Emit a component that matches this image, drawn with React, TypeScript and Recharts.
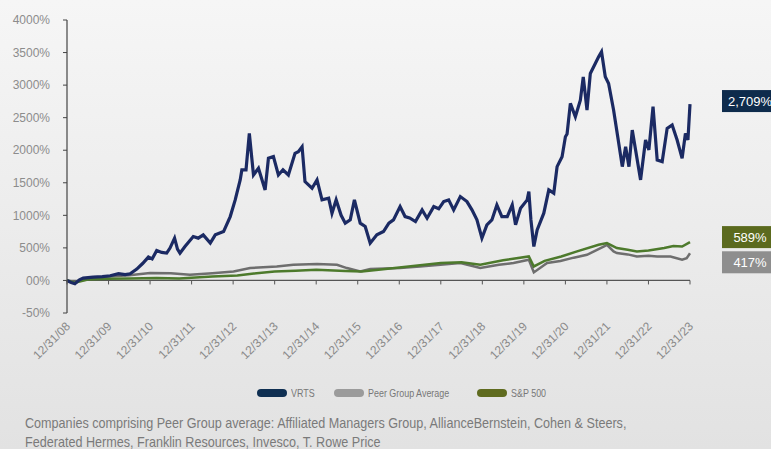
import React from 'react';
import { LineChart, Line, XAxis, YAxis, ReferenceLine, ReferenceDot } from 'recharts';

// x positions are decimal years: 2009.0 == 12/31/08
const yearTicks = [2009, 2010, 2011, 2012, 2013, 2014, 2015, 2016, 2017, 2018, 2019, 2020, 2021, 2022, 2023, 2024];
const yearLabels = ['12/31/08', '12/31/09', '12/31/10', '12/31/11', '12/31/12', '12/31/13', '12/31/14', '12/31/15', '12/31/16', '12/31/17', '12/31/18', '12/31/19', '12/31/20', '12/31/21', '12/31/22', '12/31/23'];
const valueTicks = [-500, 0, 500, 1000, 1500, 2000, 2500, 3000, 3500, 4000];
const valueLabels = ['-50%', '00%', '500%', '1000%', '1500%', '2000%', '2500%', '3000%', '3500%', '4000%'];

const vrts: [number, number][] = [
    [2009.0, 0], [2009.1, -30], [2009.19, -50], [2009.3, 10], [2009.39, 37], [2009.63, 52], [2009.85, 60],
    [2010.04, 72], [2010.24, 103], [2010.4, 90], [2010.52, 103], [2010.68, 175], [2010.82, 260], [2010.96, 359],
    [2011.05, 330], [2011.16, 460], [2011.28, 430], [2011.4, 420], [2011.48, 497], [2011.59, 650], [2011.66, 480],
    [2011.72, 420], [2011.84, 521], [2012.04, 675], [2012.16, 650], [2012.28, 700], [2012.45, 573], [2012.57, 700],
    [2012.77, 751], [2012.93, 981], [2013.05, 1237], [2013.09, 1340], [2013.17, 1544], [2013.21, 1697], [2013.31, 1697],
    [2013.39, 2260], [2013.49, 1620], [2013.61, 1723], [2013.77, 1390], [2013.85, 1876], [2013.97, 1901], [2014.09, 1620],
    [2014.2, 1700], [2014.33, 1620], [2014.49, 1953], [2014.57, 1978], [2014.66, 2054], [2014.73, 1518], [2014.9, 1416],
    [2015.02, 1544], [2015.14, 1237], [2015.3, 1263], [2015.38, 1033], [2015.48, 1237], [2015.6, 1000], [2015.7, 880],
    [2015.82, 930], [2015.92, 1237], [2016.06, 880], [2016.18, 828], [2016.3, 573], [2016.46, 700], [2016.62, 751],
    [2016.75, 880], [2016.86, 930], [2017.02, 1134], [2017.14, 981], [2017.25, 960], [2017.39, 905], [2017.55, 1084],
    [2017.67, 956], [2017.83, 1134], [2017.95, 1100], [2018.07, 1211], [2018.19, 1237], [2018.31, 1084], [2018.47, 1288],
    [2018.63, 1211], [2018.75, 1084], [2018.87, 930], [2018.99, 650], [2019.11, 854], [2019.23, 930], [2019.35, 1160],
    [2019.47, 981], [2019.6, 981], [2019.72, 1160], [2019.8, 854], [2019.92, 1110], [2020.08, 1237], [2020.12, 1364],
    [2020.17, 930], [2020.24, 521], [2020.32, 777], [2020.48, 1033], [2020.6, 1390], [2020.72, 1340], [2020.8, 1748],
    [2020.92, 1901], [2021.0, 2207], [2021.04, 2250], [2021.12, 2720], [2021.24, 2514], [2021.36, 2770], [2021.43, 3127],
    [2021.52, 2617], [2021.6, 3179], [2021.72, 3333], [2021.8, 3434], [2021.87, 3511], [2021.96, 3127], [2022.04, 3026],
    [2022.16, 2617], [2022.26, 2207], [2022.37, 1748], [2022.45, 2054], [2022.53, 1748], [2022.61, 2310], [2022.69, 2004],
    [2022.81, 1544], [2022.93, 2157], [2023.01, 2004], [2023.11, 2668], [2023.21, 1850], [2023.33, 1825], [2023.45, 2336],
    [2023.57, 2387], [2023.69, 2157], [2023.81, 1876], [2023.89, 2259], [2023.95, 2157], [2024.0, 2709],
];

const peer: [number, number][] = [
    [2009.0, 0], [2009.19, -25], [2009.43, 20], [2010.01, 60], [2010.5, 80], [2011.0, 113], [2011.5, 110],
    [2011.96, 87], [2012.5, 110], [2013.01, 138], [2013.41, 190], [2014.05, 215], [2014.45, 241], [2015.02, 251],
    [2015.5, 241], [2015.74, 190], [2016.06, 138], [2016.3, 175], [2017.02, 190], [2017.5, 215], [2017.99, 241],
    [2018.47, 267], [2018.95, 190], [2019.4, 240], [2019.75, 267], [2020.12, 317], [2020.24, 123], [2020.56, 267],
    [2020.88, 300], [2021.2, 350], [2021.52, 394], [2021.92, 521], [2022.0, 547], [2022.16, 445], [2022.24, 420],
    [2022.5, 400], [2022.72, 368], [2023.0, 380], [2023.21, 368], [2023.53, 368], [2023.81, 317], [2023.92, 340],
    [2024.0, 417],
];

const sp500: [number, number][] = [
    [2009.0, 0], [2009.19, -35], [2009.5, 15], [2010.0, 25], [2010.5, 30], [2011.16, 37], [2011.7, 30],
    [2012.0, 40], [2012.5, 60], [2013.1, 77], [2013.5, 105], [2014.0, 138], [2014.5, 150], [2015.0, 164],
    [2015.7, 145], [2016.1, 138], [2016.5, 165], [2017.0, 200], [2017.5, 235], [2018.0, 267], [2018.5, 280],
    [2018.95, 241], [2019.5, 310], [2020.12, 368], [2020.24, 215], [2020.5, 300], [2020.9, 368], [2021.3, 450],
    [2021.8, 547], [2022.0, 573], [2022.24, 497], [2022.5, 470], [2022.72, 445], [2023.0, 460], [2023.38, 497],
    [2023.6, 530], [2023.81, 521], [2024.0, 589],
];

const endValues = [2709, 589, 417];
const endTexts = ['2,709%', '589%', '417%'];
const tagColors = ['#0e2b4c', '#5b6a1e', '#8e8e8e'];
const tagShift = [-3, -5, 9];

const legendNames = ['VRTS', 'Peer Group Average', 'S&P 500'];
const legendColors = ['#0f2f52', '#9b9b9b', '#5f6b1f'];
const legendLeft = [257, 334, 477];

const toRows = (pts: [number, number][]) => pts.map(([t, v]) => ({ t, v }));

const PLOT_TOP = 20;
const PLOT_H = 293;
const ZERO_OFFSET = (PLOT_H * 500) / 4500;
const narrow = '"Liberation Sans Narrow", "Arial Narrow", "Liberation Sans", sans-serif';

const XTick = (props: any) => {
    const { x, y, payload } = props;
    const i = yearTicks.indexOf(payload.value);
    const zeroY = y - ZERO_OFFSET;
    const tx = x + 4;
    const ty = y + 14;
    return (
        <g>
            <line x1={x} x2={x} y1={zeroY} y2={zeroY + 4} stroke="#555" />
            <text x={tx} y={ty} transform={`rotate(-45 ${tx} ${ty})`} textAnchor="end" fill="#8a8a8a" fontSize={12}>
                {yearLabels[i]}
            </text>
        </g>
    );
};

const endTag = (i: number) => (p: any) => {
    const x0 = p.cx + 32;
    const cy = p.cy + tagShift[i];
    return (
        <g>
            <rect x={x0} y={cy - 11} width={56} height={22} fill={tagColors[i]} />
            <text x={x0 + 28} y={cy + 5} textAnchor="middle" fill="#fff" fontSize={13}>
                {endTexts[i]}
            </text>
        </g>
    );
};

export default function App() {
    return (
        <div
            style={{
                position: 'absolute',
                left: 0,
                top: 0,
                width: 771,
                height: 449,
                overflow: 'hidden',
                background: 'linear-gradient(#f6f6f6, #e2e2e2)',
                fontFamily: '"Liberation Sans", Arial, sans-serif',
            }}
        >
            <LineChart
                width={771}
                height={380}
                margin={{ top: PLOT_TOP, right: 81, bottom: 0, left: 0 }}
                style={{ position: 'absolute', left: 0, top: 0 }}
            >
                <XAxis
                    dataKey="t"
                    type="number"
                    domain={[2009, 2024]}
                    ticks={yearTicks}
                    allowDuplicatedCategory={false}
                    height={67}
                    axisLine={false}
                    tickLine={false}
                    tickSize={0}
                    tickMargin={0}
                    tick={<XTick />}
                    interval={0}
                />
                <YAxis
                    type="number"
                    width={67}
                    domain={[-500, 4000]}
                    ticks={valueTicks}
                    tickFormatter={(v: number) => valueLabels[valueTicks.indexOf(v)]}
                    axisLine={{ stroke: '#444', strokeWidth: 1.2 }}
                    tickLine={{ stroke: '#444' }}
                    tickSize={4}
                    tickMargin={13}
                    tick={{ fill: '#8c8c8c', fontSize: 12 }}
                    interval={0}
                />
                <ReferenceLine y={0} stroke="#555" strokeWidth={1.2} />
                <Line data={toRows(peer)} dataKey="v" stroke="#6e6e6e" strokeWidth={2.5} dot={false} isAnimationActive={false} />
                <Line data={toRows(sp500)} dataKey="v" stroke="#4d7a2c" strokeWidth={2.5} dot={false} isAnimationActive={false} />
                <Line data={toRows(vrts)} dataKey="v" stroke="#1b2a63" strokeWidth={3.2} dot={false} isAnimationActive={false} />
                {endValues.map((v, i) => (
                    <ReferenceDot key={i} x={2024} y={v} r={0} shape={endTag(i)} />
                ))}
            </LineChart>

            {legendNames.map((n, i) => (
                <div key={n} style={{ position: 'absolute', left: legendLeft[i], top: 386, display: 'flex', alignItems: 'center', height: 14 }}>
                    <span style={{ width: 30, height: 8, borderRadius: 4, background: legendColors[i], marginRight: 4 }} />
                    <span
                        style={{
                            fontFamily: narrow,
                            fontSize: 10.5,
                            color: '#777',
                            whiteSpace: 'nowrap',
                            display: 'inline-block',
                            transform: 'scaleX(0.85)',
                            transformOrigin: '0 50%',
                        }}
                    >
                        {n}
                    </span>
                </div>
            ))}

            <div
                style={{
                    position: 'absolute',
                    left: 25,
                    top: 413,
                    fontFamily: narrow,
                    fontSize: 15,
                    lineHeight: '19px',
                    color: '#7a7a7a',
                    whiteSpace: 'nowrap',
                    transform: 'scaleX(0.84)',
                    transformOrigin: '0 0',
                }}
            >
                Companies comprising Peer Group average: Affiliated Managers Group, AllianceBernstein, Cohen &amp; Steers,
                <br />
                Federated Hermes, Franklin Resources, Invesco, T. Rowe Price
            </div>
        </div>
    );
}
